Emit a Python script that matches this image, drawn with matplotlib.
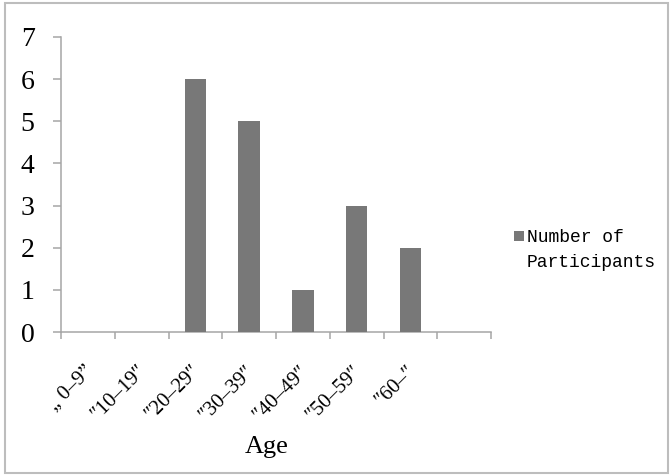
import numpy as np
import matplotlib
matplotlib.use("Agg")
import matplotlib.pyplot as plt
from matplotlib.patches import Rectangle

# data
age_groups = ['„ 0–9”', '″10–19″', '″20–29″', '″30–39″', '″40–49″', '″50–59″', '″60–″', '']
participants = [0, 0, 6, 5, 1, 3, 2]
series_name = 'Number of\nParticipants'

bar_color = '#787878'
axis_color = '#A6A6A6'
serif = ['Liberation Serif', 'DejaVu Serif']

fig = plt.figure(figsize=(6.72, 4.76), dpi=100)
ax = fig.add_axes([61/672, 1 - 332/476, 430/672, 295/476])

x = np.arange(len(participants))
ax.bar(x, participants, width=0.4, color=bar_color, zorder=3)

ax.set_xlim(-0.5, len(age_groups) - 0.5)
ax.set_ylim(0, 7)

# spines
for s in ['top', 'right']:
    ax.spines[s].set_visible(False)
for s in ['left', 'bottom']:
    ax.spines[s].set_color(axis_color)
    ax.spines[s].set_linewidth(1.1)

# y axis
ax.set_yticks(range(0, 8))
ax.tick_params(axis='y', direction='out', length=6, width=1.1, color=axis_color,
               pad=13, labelsize=20)
for t in ax.get_yticklabels():
    t.set_family(serif)

# x axis: ticks between categories, labels at centres
ax.set_xticks(np.arange(-0.5, len(age_groups)), labels=[])
ax.set_xticks(np.arange(len(age_groups)) + 0.05, labels=age_groups, minor=True)
ax.tick_params(axis='x', which='major', direction='out', length=5, width=1.1,
               color=axis_color)
ax.tick_params(axis='x', which='minor', length=0, pad=26, labelsize=15)
for t in ax.get_xticklabels(minor=True):
    t.set_family(serif)
    t.set_rotation(45)
    t.set_rotation_mode('anchor')
    t.set_ha('right')
    t.set_va('center')

fig.text(267/672, 1 - 447/476, 'Age', ha='center', va='center',
         fontsize=19, family=serif)

# legend, drawn by hand so the key sits on the first line
fig.patches.append(Rectangle((514/672, 1 - 241/476), 10/672, 10/476,
                             transform=fig.transFigure, facecolor=bar_color,
                             edgecolor='none'))
fig.text(527/672, 1 - 229/476, series_name, ha='left', va='top',
         family='Liberation Mono', fontsize=13, linespacing=1.65)

# chart frame
fig.patches.append(Rectangle((5/672, 3/476), 663/672, 470/476, transform=fig.transFigure,
                             fill=False, edgecolor='#BDBDBD', linewidth=1.5))

fig.savefig('out.png', dpi=100)
